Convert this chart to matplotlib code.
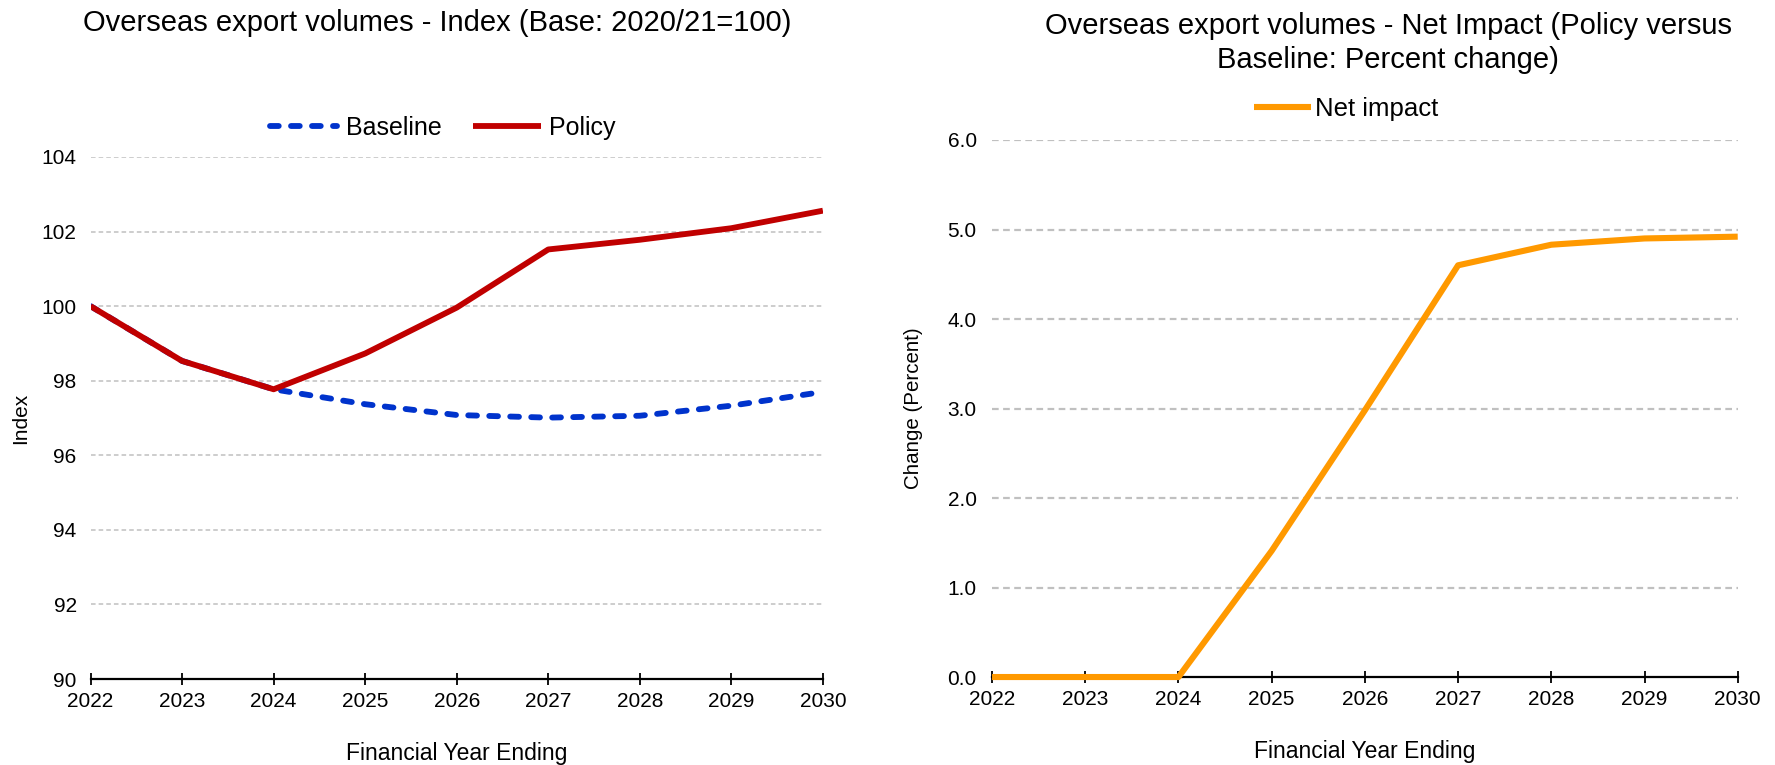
import matplotlib.pyplot as plt

plt.rcParams['font.family'] = ['Liberation Sans', 'DejaVu Sans']

# Financial year ending
years = [2022, 2023, 2024, 2025, 2026, 2027, 2028, 2029, 2030]

# Index, base 2020/21 = 100
baseline = [100.0, 98.53, 97.77, 97.37, 97.08, 97.01, 97.06, 97.33, 97.70]
policy = [100.0, 98.53, 97.77, 98.73, 99.96, 101.52, 101.78, 102.09, 102.56]

# Policy versus baseline, percent change
net_impact = [0.0, 0.0, 0.0, 1.41, 2.98, 4.60, 4.83, 4.90, 4.92]

left_ticks = [90, 92, 94, 96, 98, 100, 102, 104]
right_ticks = [0.0, 1.0, 2.0, 3.0, 4.0, 5.0, 6.0]

fig = plt.figure(figsize=(17.75, 7.65), dpi=100)
ax1 = fig.add_axes([0.051, 0.1124, 0.4126, 0.6824])
ax2 = fig.add_axes([0.5589, 0.115, 0.4201, 0.702])


def style_axes(ax, yticks, grid_lw, grid_dash, ypad):
    for side in ['top', 'right', 'left']:
        ax.spines[side].set_visible(False)
    ax.spines['bottom'].set_linewidth(1.6)
    ax.set_xlim(years[0], years[-1])
    ax.set_xticks(years)
    ax.set_yticks(yticks)
    ax.set_ylim(yticks[0], yticks[-1])
    ax.tick_params(axis='x', direction='inout', length=9, width=1.3,
                   labelsize=15, pad=5)
    ax.tick_params(axis='y', length=0, labelsize=15, pad=ypad)
    for y in yticks[1:]:
        ax.axhline(y, color='#c0c0c0', lw=grid_lw, ls=(0, grid_dash), zorder=0)
    ax.set_xlabel('Financial Year Ending', fontsize=16.5, labelpad=22)


style_axes(ax1, left_ticks, 1.1, (3, 2), 10)
ax1.yaxis.set_major_formatter(plt.FuncFormatter(lambda v, p: f'{v:.0f}'))
ax1.plot(years, baseline, color='#0033cc', lw=4.2, ls=(0, (1.5, 2.1)),
         dash_capstyle='round', label='Baseline', zorder=3)
ax1.plot(years, policy, color='#c00000', lw=4.2, solid_capstyle='butt',
         label='Policy', zorder=4)
ax1.set_ylabel('Index', fontsize=15, labelpad=8)
ax1.legend(loc='center', bbox_to_anchor=(0.481, 1.056), ncol=2, frameon=False,
           fontsize=18, handlelength=2.7, columnspacing=1.25, handletextpad=0.35)

style_axes(ax2, right_ticks, 1.6, (3, 2), 11)
ax2.yaxis.set_major_formatter(plt.FuncFormatter(lambda v, p: f'{v:.1f}'))
ax2.plot(years, net_impact, color='#ff9900', lw=4.4, solid_capstyle='butt',
         label='Net impact', zorder=4, clip_on=False)
ax2.set_ylabel('Change (Percent)', fontsize=14.8, labelpad=18)
ax2.legend(loc='center', bbox_to_anchor=(0.475, 1.058), frameon=False,
           fontsize=18.5, handlelength=2.2, handletextpad=0.15)

fig.text(0.2465, 0.970, 'Overseas export volumes - Index (Base: 2020/21=100)',
         fontsize=21, ha='center', va='center')
fig.text(0.782, 0.944,
         'Overseas export volumes - Net Impact (Policy versus\nBaseline: Percent change)',
         fontsize=21, ha='center', va='center', linespacing=1.26)

fig.savefig('out.png', dpi=100)
